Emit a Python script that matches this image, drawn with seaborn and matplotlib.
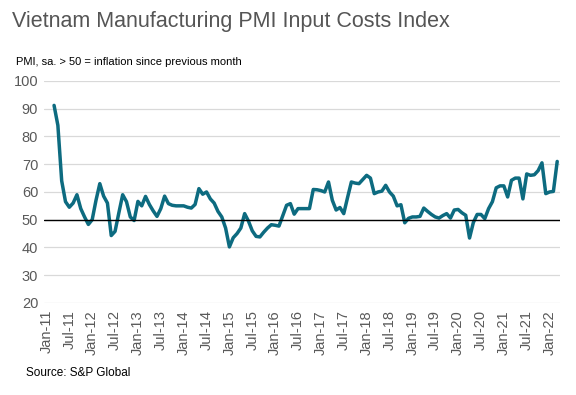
import pandas as pd
import numpy as np
import matplotlib
matplotlib.use("Agg")
import matplotlib.pyplot as plt
import seaborn as sns

# monthly index values, series starts Mar-2011
START = "2011-03-01"
Y2011 = [91.2, 84.0, 64.0, 56.5, 54.5, 56.0, 59.0, 54.0, 51.0, 48.3]
Y2012 = [50.0, 57.0, 63.0, 58.5, 56.0, 44.3, 45.8, 52.5, 59.0, 56.5, 51.0, 49.7]
Y2013 = [56.6, 55.0, 58.4, 55.5, 53.2, 51.2, 54.0, 58.5, 55.8, 55.2, 55.0, 55.0]
Y2014 = [55.0, 54.5, 54.2, 55.5, 61.2, 59.2, 60.0, 57.5, 56.0, 53.0, 51.0, 47.0]
Y2015 = [40.2, 43.5, 45.0, 47.0, 52.2, 49.5, 46.0, 44.0, 43.8, 45.5, 47.0, 48.2]
Y2016 = [48.0, 47.7, 51.5, 55.2, 55.8, 52.0, 54.0, 54.0, 54.0, 54.0, 60.9, 60.8]
Y2017 = [60.5, 60.0, 63.6, 57.0, 53.5, 54.4, 52.2, 58.0, 63.6, 63.2, 63.0, 64.5]
Y2018 = [66.0, 65.0, 59.4, 60.0, 60.3, 62.4, 60.0, 58.5, 55.0, 55.4, 48.9, 50.5]
Y2019 = [51.0, 51.0, 51.2, 54.2, 53.0, 51.9, 51.0, 50.6, 51.5, 52.2, 50.6, 53.5]
Y2020 = [53.7, 52.5, 51.6, 43.4, 49.0, 51.9, 51.9, 50.4, 54.0, 56.5, 61.5, 62.2]
Y2021 = [62.2, 58.2, 64.2, 65.0, 65.0, 57.5, 66.5, 66.0, 66.2, 67.7, 70.5, 59.4]
Y2022 = [60.0, 60.2, 71.0]

values = Y2011 + Y2012 + Y2013 + Y2014 + Y2015 + Y2016 + Y2017 + Y2018 + Y2019 + Y2020 + Y2021 + Y2022
dates = pd.date_range(START, periods=len(values), freq="MS")

# x as month number since Jan-2011
df = pd.DataFrame({"month": (dates.year - 2011) * 12 + dates.month - 1, "pmi": values})

tick_dates = pd.date_range("2011-01-01", "2022-01-01", freq="6MS")
tick_pos = (tick_dates.year - 2011) * 12 + tick_dates.month - 1
tick_labels = [d.strftime("%b-%y") for d in tick_dates]

sns.set_style("white")
plt.rcParams["font.family"] = ["Liberation Sans", "DejaVu Sans"]

fig = plt.figure(figsize=(5.76, 3.95), dpi=100)
ax = fig.add_axes([0.076, 0.233, 0.896, 0.562])

sns.lineplot(data=df, x="month", y="pmi", color="#0d6b80", linewidth=2.5, ax=ax)
ax.axhline(50, color="black", linewidth=1.0, zorder=3)

ax.set_ylim(20, 100)
ax.set_yticks(range(20, 101, 10))
ax.set_xlim(-0.7, 134.7)
ax.set_xticks(tick_pos)
ax.set_xticklabels(tick_labels, rotation=90)
ax.tick_params(axis="both", colors="#595959", labelsize=10.5, length=0, pad=4)
ax.tick_params(axis="x", labelsize=10.5, pad=5)
ax.yaxis.grid(True, color="#d9d9d9", linewidth=0.9)
ax.set_axisbelow(True)
for s in ax.spines.values():
    s.set_visible(False)
ax.set_xlabel("")
ax.set_ylabel("")

fig.text(0.021, 0.945, "Vietnam Manufacturing PMI Input Costs Index", fontsize=15.5, color="#555555", va="center")
fig.text(0.028, 0.843, "PMI, sa. > 50 = inflation since previous month", fontsize=8, color="black", va="center")
fig.text(0.045, 0.056, "Source: S&P Global", fontsize=8.5, color="black", va="center")

fig.savefig("out.png", dpi=100)
